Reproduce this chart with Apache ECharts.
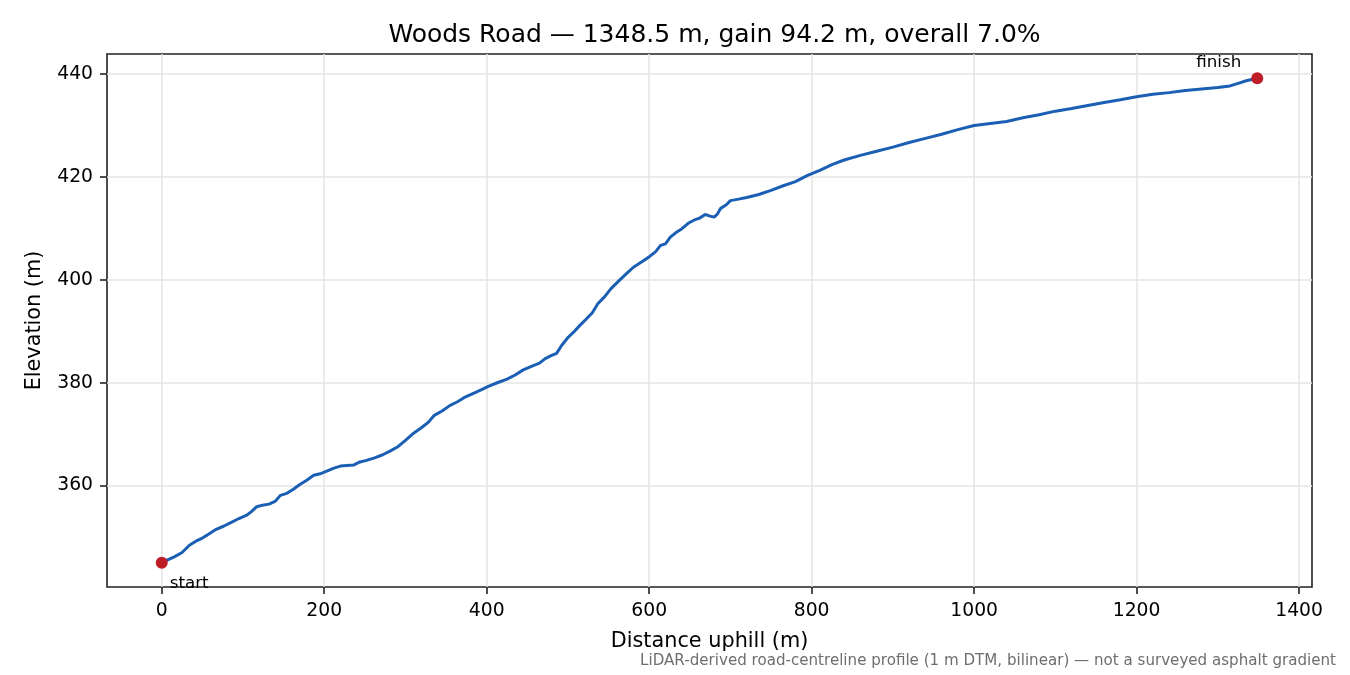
<!DOCTYPE html>
<html>
<head>
<meta charset="utf-8">
<script src="https://cdn.jsdelivr.net/npm/echarts@6/dist/echarts.min.js"></script>
<style>html,body{margin:0;padding:0;background:#fff}#c{width:1350px;height:675px}</style>
</head>
<body>
<div id="c"></div>
<script>
const titleText = "Woods Road \u2014 1348.5 m, gain 94.2 m, overall 7.0%";
const distances = [0,8,16,25,34,42,50,58,67,76,85,95,104,110,117,124,132,140,146,154,162,170,178,187,195,203,212,220,228,236,244,252,262,272,281,290,300,310,320,328,335,345,355,364,372,383,393,402,413,425,435,445,455,465,472,480,486,492,500,508,515,522,530,537,545,553,562,572,581,592,601,608,614,620,626,633,640,648,655,662,669,675,680,684,688,695,700,710,720,735,750,765,780,795,810,825,840,860,880,900,920,940,960,980,1000,1020,1040,1060,1080,1100,1120,1140,1160,1180,1200,1220,1240,1260,1280,1300,1315,1325,1335,1348.5];
const elevations = [345.0,345.6,346.2,347.0,348.4,349.2,349.8,350.6,351.5,352.1,352.8,353.6,354.2,354.9,355.9,356.2,356.4,357.0,358.1,358.5,359.3,360.2,361.0,362.0,362.3,362.8,363.4,363.8,363.9,364.0,364.6,364.9,365.4,366.0,366.7,367.5,368.8,370.2,371.3,372.3,373.6,374.5,375.6,376.3,377.1,377.9,378.6,379.3,380.0,380.7,381.5,382.5,383.2,383.8,384.7,385.3,385.7,387.2,388.8,390.0,391.2,392.3,393.6,395.4,396.7,398.3,399.7,401.2,402.5,403.6,404.6,405.5,406.7,407.0,408.3,409.2,409.9,411.0,411.6,412.0,412.7,412.4,412.2,412.8,413.9,414.6,415.4,415.7,416.0,416.6,417.4,418.3,419.1,420.3,421.3,422.4,423.3,424.2,425.0,425.8,426.7,427.5,428.3,429.2,430.0,430.4,430.8,431.5,432.1,432.8,433.3,433.9,434.5,435.0,435.6,436.1,436.4,436.8,437.1,437.4,437.7,438.2,438.7,439.2];
const xTicks = [0,200,400,600,800,1000,1200,1400];
const yTicks = [360,380,400,420,440];
const endLabels = ["start","finish"];
const xLabel = "Distance uphill (m)";
const yLabel = "Elevation (m)";
const footnote = "LiDAR-derived road-centreline profile (1 m DTM, bilinear) \u2014 not a surveyed asphalt gradient";

const lineData = distances.map((d,i)=>[d, elevations[i]]);
const n = distances.length;
const xMin = -67.4, xMax = 1415.9, yMin = 340.29, yMax = 443.91;

const chart = echarts.init(document.getElementById('c'), null, {renderer:'canvas'});
const font = "DejaVu Sans";
const tickFs = 18.75, labelFs = 20.8;
chart.setOption({
  animation:false,
  backgroundColor:'#ffffff',
  textStyle:{fontFamily:font},
  title:{text:titleText, left:709.5, textAlign:'center', top:18,
    textStyle:{fontFamily:font, fontSize:25, fontWeight:'normal', color:'#000'}},
  grid:{left:107, right:38, top:54, bottom:88, show:true, borderColor:'#222', borderWidth:1.6, backgroundColor:'transparent'},
  xAxis:{type:'value', min:xMin, max:xMax,
    name:xLabel, nameLocation:'middle', nameGap:44,
    nameTextStyle:{fontFamily:font, fontSize:labelFs, color:'#000'},
    axisLine:{show:false, onZero:false},
    axisTick:{show:true, customValues:xTicks, length:7, lineStyle:{color:'#222', width:1.6}},
    axisLabel:{customValues:xTicks, formatter:v=>String(v), fontFamily:font, fontSize:tickFs, color:'#000', margin:15},
    splitLine:{show:false}
  },
  yAxis:{type:'value', min:yMin, max:yMax,
    name:yLabel, nameLocation:'middle', nameGap:62, nameRotate:90,
    nameTextStyle:{fontFamily:font, fontSize:labelFs, color:'#000'},
    axisLine:{show:false, onZero:false},
    axisTick:{show:true, customValues:yTicks, length:7, lineStyle:{color:'#222', width:1.6}},
    axisLabel:{customValues:yTicks, formatter:v=>String(v), fontFamily:font, fontSize:tickFs, color:'#000', margin:14},
    splitLine:{show:false}
  },
  series:[
    {type:'line', data:[], silent:true, z:1,
      markLine:{silent:true, z:1, symbol:'none', label:{show:false},
        emphasis:{disabled:true},
        lineStyle:{color:'#e4e4e4', width:1.5, type:'solid'},
        data: xTicks.map(v=>({xAxis:v})).concat(yTicks.map(v=>({yAxis:v})))
      }
    },
    {type:'line', data:lineData, showSymbol:false, symbol:'none', smooth:false,
      lineStyle:{color:'#1a5fb4', width:3}, z:3},
    {type:'scatter', symbolSize:12, z:4,
      itemStyle:{color:'#c01c28', opacity:1},
      data:[
        {value:[distances[0], elevations[0]], label:{show:true, formatter:endLabels[0], position:'inside', align:'left', verticalAlign:'middle', offset:[8,21], fontFamily:font, fontSize:16.7, color:'#000'}},
        {value:[distances[n-1], elevations[n-1]], label:{show:true, formatter:endLabels[1], position:'inside', align:'right', verticalAlign:'middle', offset:[-16,-16], fontFamily:font, fontSize:16.7, color:'#000'}}
      ]
    }
  ],
  graphic:[{type:'text', right:14, top:654,
    style:{text:footnote, fontFamily:font, fontSize:15.1, fill:'#6e6e6e'}}]
});
</script>
</body>
</html>
